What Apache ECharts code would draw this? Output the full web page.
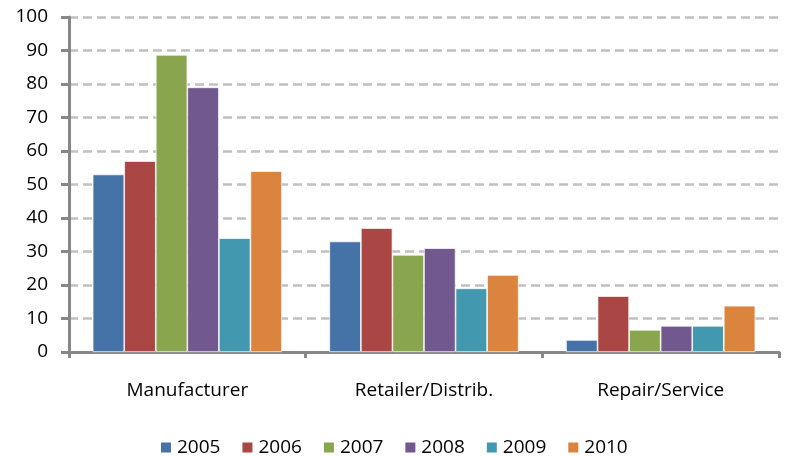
<!DOCTYPE html>
<html>
<head>
<meta charset="utf-8">
<script src="https://cdn.jsdelivr.net/npm/echarts@6/dist/echarts.min.js"></script>
<style>html,body{margin:0;padding:0;background:#fff}#c{width:785px;height:457px}</style>
</head>
<body>
<div id="c"></div>
<script>
const categories = ['Manufacturer', 'Retailer/Distrib.', 'Repair/Service'];
const years = ['2005', '2006', '2007', '2008', '2009', '2010'];
const v2005 = [53, 33, 3.6];
const v2006 = [57, 37, 16.7];
const v2007 = [88.7, 29, 6.6];
const v2008 = [79, 31, 7.8];
const v2009 = [34, 19, 7.8];
const v2010 = [54, 23, 13.8];
const yTicks = [0, 10, 20, 30, 40, 50, 60, 70, 80, 90, 100];

const colors = ['#4572A7', '#AA4643', '#89A54E', '#71588F', '#4198AF', '#DB843D'];
const seriesData = [v2005, v2006, v2007, v2008, v2009, v2010];
const font = 'Open Sans, Liberation Sans, sans-serif';

const chart = echarts.init(document.getElementById('c'));
chart.setOption({
  animation: false,
  color: colors,
  grid: { left: 69, right: 6, top: 17, bottom: 105, containLabel: false },
  legend: {
    top: 433, left: 154,
    itemWidth: 12, itemHeight: 12, itemGap: 20,
    icon: 'rect',
    textStyle: { fontSize: 19, color: '#000', fontFamily: font },
    data: years
  },
  xAxis: {
    type: 'category',
    data: categories,
    axisLine: { lineStyle: { color: '#878787', width: 3 } },
    axisTick: { show: true, length: 6, lineStyle: { color: '#878787', width: 3 } },
    axisLabel: { fontSize: 19, color: '#000', fontFamily: font, margin: 29 }
  },
  yAxis: {
    type: 'value',
    min: yTicks[0], max: yTicks[yTicks.length - 1], interval: 10,
    axisLine: { show: true, lineStyle: { color: '#878787', width: 3 } },
    axisTick: { show: true, length: 8, lineStyle: { color: '#878787', width: 3 } },
    axisLabel: { fontSize: 19, color: '#000', fontFamily: font, margin: 21 },
    splitLine: { show: true, lineStyle: { color: '#c0c0c0', width: 2.5, type: [9, 5] } }
  },
  series: years.map((y, i) => ({
    name: y,
    type: 'bar',
    data: seriesData[i],
    barGap: '0%',
    barCategoryGap: '20%',
    itemStyle: { color: colors[i], borderColor: '#fff', borderWidth: 0.7 }
  }))
});
</script>
</body>
</html>
